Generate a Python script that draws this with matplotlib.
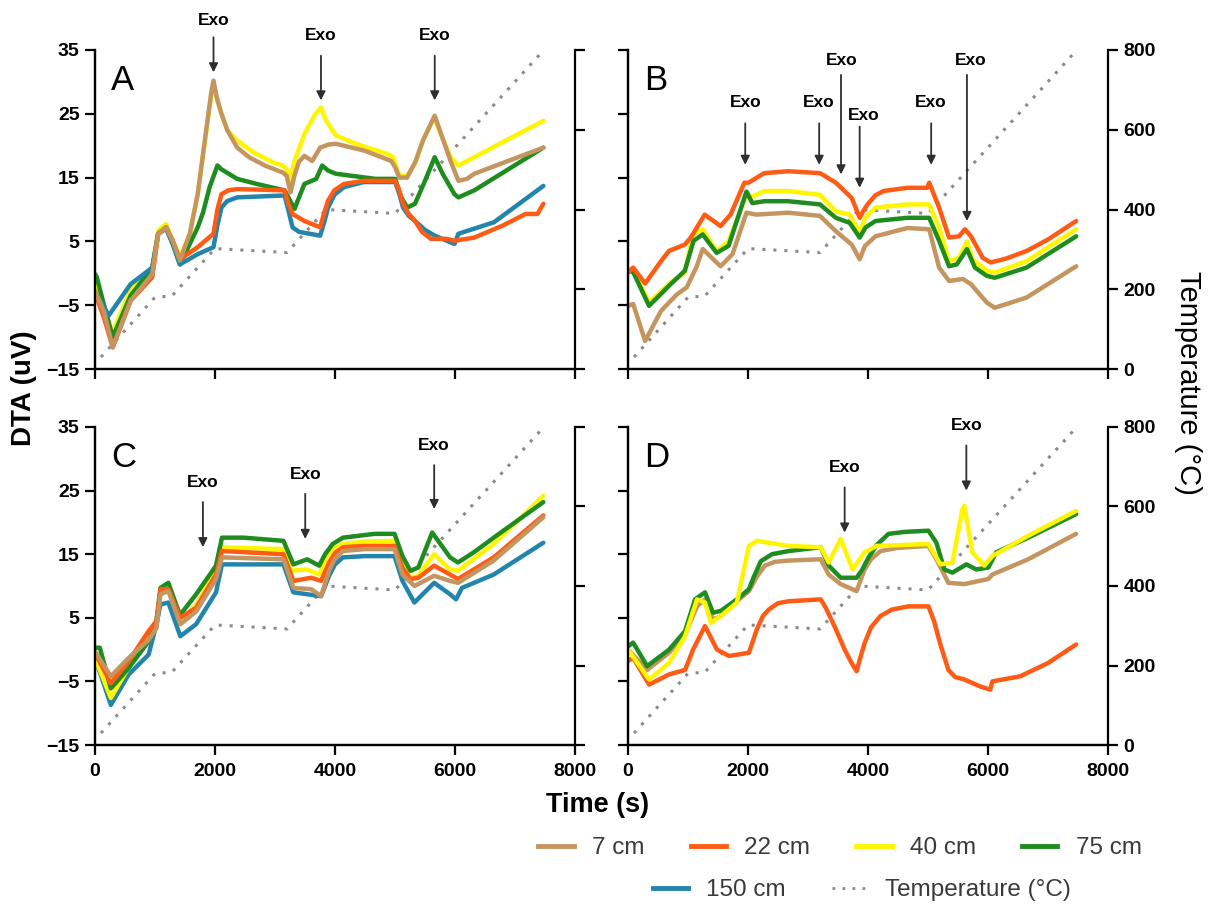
import matplotlib.pyplot as plt
from matplotlib.lines import Line2D

plt.rcParams['font.family'] = ['Liberation Sans', 'DejaVu Sans']

# furnace temperature program (same for every run)
temp_t = [100, 1000, 1280, 2000, 3200, 3850, 5000, 7450]
temp_c = [30, 180, 183, 302, 292, 400, 390, 795]

# ---- A ----
a7_t = [0, 150, 296, 593, 955, 1053, 1185, 1300, 1415, 1580, 1712, 1844, 1942, 1975, 2028, 2107, 2206, 2370,
        2568, 2831, 3127, 3193, 3259, 3330, 3400, 3490, 3621, 3753, 3900, 4016, 4500, 4938, 5004, 5070,
        5201, 5340, 5465, 5662, 5800, 5926, 6057, 6200, 6321, 7473]
a7_v = [-2.7, -6, -11.6, -4.3, -0.1, 6.2, 7.2, 5, 2.0, 6.2, 12.4, 21.8, 28.6, 30.2, 27.6, 25.0, 22.4, 19.7,
        18.2, 16.9, 15.8, 15.3, 12.7, 15.5, 17.5, 18.4, 17.6, 19.7, 20.2, 20.3, 19.2, 17.6, 16.6, 15.0,
        15.0, 17.5, 20.8, 24.7, 21.0, 17.6, 14.5, 14.8, 15.6, 19.7]
a22_t = [0, 150, 296, 593, 955, 1053, 1185, 1300, 1415, 1712, 1975, 2040, 2107, 2220, 2370, 3160, 3220,
         3292, 3490, 3753, 3820, 3885, 3990, 4148, 4477, 5004, 5070, 5135, 5230, 5333, 5450, 5597, 5860,
         5991, 6321, 6800, 7177, 7374, 7473]
a22_v = [-3, -7, -11.6, -4.3, -0.6, 6.2, 7.2, 5, 2.2, 4.1, 6.2, 10.0, 12.4, 13.0, 13.2, 13.0, 11.0,
         9.3, 8.2, 7.2, 9.5, 11.4, 13.0, 14.0, 14.5, 14.5, 13.0, 10.9, 9.3, 8.2, 6.5, 5.4, 5.4,
         5.1, 5.6, 7.5, 9.3, 9.3, 10.9]
a40_t = [0, 150, 277, 593, 955, 1053, 1185, 1300, 1415, 1580, 1712, 1844, 1942, 1975, 2074, 2206, 2370,
         2634, 2963, 3127, 3193, 3239, 3325, 3490, 3654, 3766, 3852, 4016, 4346, 4872, 4971, 5070, 5201,
         5340, 5465, 5649, 5800, 5926, 6057, 6321, 7473]
a40_v = [-1.9, -5, -9.5, -2.7, 0.9, 6.7, 7.7, 5, 2.5, 6.2, 12.4, 21.5, 28.2, 29.6, 26.0, 22.4, 20.8,
         19.0, 17.4, 16.9, 16.3, 14.3, 17.6, 21.8, 24.7, 26.0, 23.9, 21.6, 20.3, 18.7, 18.2, 15.3, 15.3,
         17.3, 20.8, 24.4, 21.0, 18.2, 16.9, 18.2, 23.9]
a75_t = [0, 30, 150, 296, 593, 955, 1053, 1185, 1300, 1415, 1712, 1800, 1910, 2041, 2107, 2370, 2700, 3160,
         3325, 3490, 3687, 3786, 3885, 4016, 4675, 5004, 5100, 5201, 5333, 5500, 5662, 5800, 5991, 6057,
         6321, 7473]
a75_v = [-0.1, -0.6, -5, -10.0, -3.5, 0.9, 6.2, 7.2, 4.5, 1.4, 7.2, 9.5, 13.5, 16.9, 16.3, 14.8, 14.0, 13.0,
         10.1, 14.0, 14.8, 16.9, 16.1, 15.6, 14.8, 14.8, 12.0, 10.3, 10.9, 14.5, 18.2, 15.5, 12.4, 11.9,
         13.0, 19.7]
a150_t = [0, 100, 230, 593, 955, 1053, 1185, 1300, 1415, 1712, 1975, 2040, 2107, 2200, 2370, 3160, 3220,
          3292, 3400, 3753, 3820, 3885, 3990, 4148, 4477, 5004, 5070, 5135, 5230, 5333, 5500, 5662, 5991,
          6057, 6650, 7473]
a150_v = [-3, -4.5, -6.6, -1.7, 0.9, 6.2, 7.0, 4.5, 1.4, 3.0, 4.1, 7.5, 10.3, 11.3, 11.9, 12.2, 10.0,
          7.2, 6.5, 5.9, 8.0, 10.3, 12.3, 13.5, 14.3, 14.3, 12.5, 10.3, 9.0, 8.2, 6.8, 5.9, 4.6,
          6.2, 8.0, 13.7]

# ---- B ----
b7_t = [0, 86, 285, 550, 815, 980, 1146, 1245, 1543, 1742, 1974, 2139, 2669, 3199, 3464, 3729, 3861,
        3950, 4126, 4656, 5020, 5185, 5351, 5583, 5716, 5981, 6113, 6643, 7470]
b7_v = [-5.1, -4.8, -10.6, -5.9, -3.3, -2.2, 1.1, 3.8, 1.1, 3.0, 9.5, 9.2, 9.5, 9.0, 6.6, 4.5, 2.2,
        4.3, 5.8, 7.1, 6.9, 0.9, -1.2, -0.9, -1.7, -4.6, -5.4, -3.8, 1.1]
b22_t = [0, 86, 285, 550, 682, 947, 1046, 1278, 1543, 1709, 1940, 2007, 2272, 2669, 3199, 3464, 3729,
         3861, 3930, 3993, 4120, 4258, 4656, 4987, 5020, 5185, 5351, 5517, 5616, 5716, 5914, 6047, 6300,
         6643, 7000, 7470]
b22_v = [0.1, 0.9, -1.6, 1.9, 3.5, 4.5, 5.6, 9.2, 7.4, 9.2, 14.2, 14.2, 15.7, 16.0, 15.7, 14.2, 11.8,
         8.7, 9.9, 10.8, 12.2, 12.9, 13.4, 13.4, 14.2, 10.3, 5.6, 5.8, 6.9, 5.8, 2.4, 1.7, 2.3,
         3.5, 5.3, 8.2]
b40_t = [0, 86, 351, 700, 947, 1080, 1245, 1477, 1676, 1974, 2073, 2272, 2669, 3199, 3464, 3696, 3861,
         3960, 4126, 4656, 5020, 5185, 5351, 5517, 5649, 5749, 5981, 6113, 6643, 7470]
b40_v = [0.7, 0.5, -4.6, -1.5, 0.1, 6.1, 6.9, 3.5, 5.0, 12.3, 12.0, 12.9, 12.9, 12.3, 9.7, 9.2, 6.4,
         8.8, 10.3, 10.8, 10.8, 7.2, 1.9, 2.4, 5.0, 2.1, 0.4, 0.1, 1.9, 6.9]
b75_t = [0, 86, 351, 700, 947, 1093, 1245, 1477, 1676, 1974, 2073, 2272, 2669, 3199, 3464, 3696, 3861,
         3960, 4126, 4656, 5020, 5185, 5351, 5480, 5649, 5782, 5981, 6113, 6643, 7470]
b75_v = [0.4, 0.2, -5.1, -1.8, 0.4, 5.1, 6.1, 3.2, 4.3, 12.8, 11.0, 11.3, 11.3, 10.8, 8.7, 7.9, 5.6,
         7.2, 8.2, 8.7, 8.7, 5.1, 1.1, 1.4, 3.8, 0.9, -0.4, -0.7, 0.9, 5.8]

# ---- C ----
c7_t = [0, 264, 562, 893, 1025, 1091, 1223, 1422, 1686, 2017, 2116, 3141, 3306, 3604, 3769, 3901, 4000,
        4132, 4500, 4992, 5124, 5323, 5653, 5918, 6050, 6645, 7472]
c7_v = [-0.3, -4.2, -1.3, 1.5, 3.4, 8.7, 9.2, 4.0, 6.0, 11.1, 14.5, 14.2, 9.7, 9.5, 8.4, 12.4, 14.3,
        15.5, 15.8, 15.8, 11.8, 10.0, 11.6, 10.8, 10.5, 14.0, 20.8]
c22_t = [0, 264, 562, 893, 1025, 1091, 1223, 1422, 1686, 2017, 2116, 3141, 3306, 3604, 3769, 3901, 4000,
         4132, 4500, 4992, 5124, 5256, 5389, 5653, 5918, 6050, 6645, 7472]
c22_v = [-0.5, -5.3, -1.8, 2.9, 4.5, 9.5, 9.5, 5.0, 6.6, 11.8, 15.5, 15.0, 10.8, 11.3, 10.8, 13.7, 15.2,
         16.1, 16.3, 16.3, 12.9, 11.1, 11.3, 13.2, 11.8, 11.1, 14.5, 21.1]
c40_t = [0, 264, 562, 893, 1025, 1091, 1223, 1422, 1686, 2017, 2083, 3141, 3273, 3537, 3736, 3868, 3980,
         4132, 4500, 4992, 5124, 5256, 5389, 5653, 5918, 6050, 6645, 7472]
c40_v = [-1.3, -7.6, -2.8, 2.0, 4.2, 9.2, 9.7, 4.5, 7.0, 12.4, 16.1, 15.8, 12.4, 12.6, 11.8, 14.7, 15.9,
         16.6, 17.0, 17.1, 13.7, 11.3, 11.6, 15.0, 12.6, 12.4, 16.6, 24.2]
c75_t = [0, 80, 264, 562, 893, 1025, 1091, 1223, 1389, 1422, 1686, 2017, 2116, 2480, 3141, 3306, 3537,
         3736, 3835, 3960, 4132, 4661, 4992, 5124, 5256, 5389, 5620, 5918, 6050, 6314, 6645, 7472]
c75_v = [0.3, 0.3, -6.1, -2.9, 1.3, 4.5, 9.7, 10.5, 6.1, 5.5, 8.7, 13.2, 17.6, 17.6, 17.1, 13.4, 14.2,
         13.2, 15.0, 16.6, 17.6, 18.2, 18.2, 14.7, 12.4, 12.9, 18.4, 14.5, 13.7, 15.3, 17.6, 23.2]
c150_t = [0, 264, 562, 893, 1025, 1091, 1223, 1422, 1686, 2017, 2116, 3141, 3306, 3537, 3769, 3901, 4000,
          4132, 4500, 4992, 5124, 5323, 5653, 5918, 6017, 6116, 6645, 7472]
c150_v = [-1.3, -8.7, -3.9, -0.8, 4.0, 7.1, 7.4, 2.1, 4.0, 9.0, 13.4, 13.4, 9.0, 8.7, 8.4, 11.6, 13.4,
          14.5, 14.7, 14.7, 10.8, 7.4, 10.5, 8.7, 7.9, 9.7, 11.8, 16.8]

# ---- D ----
d7_t = [0, 319, 685, 951, 1150, 1283, 1416, 1550, 1815, 2015, 2150, 2281, 2450, 2680, 3212, 3345, 3544,
        3810, 3943, 4050, 4209, 4500, 5007, 5140, 5340, 5606, 6005, 6072, 6670, 7468]
d7_v = [0, -3.2, -0.5, 2.4, 6.8, 7.9, 4.7, 5.3, 7.6, 9.2, 11.5, 13.2, 13.8, 14.0, 14.2, 11.8, 10.3,
        9.2, 12.6, 14.2, 15.5, 16.0, 16.3, 14.2, 10.5, 10.3, 11.1, 11.8, 14.2, 18.2]
d22_t = [0, 86, 352, 685, 951, 1084, 1283, 1483, 1682, 2015, 2148, 2250, 2347, 2500, 2680, 3212, 3300,
         3450, 3611, 3720, 3810, 3880, 3943, 4050, 4209, 4400, 4675, 5007, 5100, 5200, 5340, 5450, 5606,
         5872, 6038, 6072, 6537, 7002, 7468]
d22_v = [-1.8, -1.3, -5.5, -3.9, -3.2, 0.0, 3.7, 0.0, -1.0, -0.5, 3.2, 5.3, 6.3, 7.3, 7.6, 7.9, 6.5,
         3.5, 0.0, -2.0, -3.4, -1.0, 1.0, 3.5, 5.3, 6.3, 6.8, 6.8, 4.5, 1.0, -3.2, -4.3, -4.7,
         -5.8, -6.3, -5.0, -4.2, -2.1, 0.8]
d40_t = [0, 352, 685, 951, 1150, 1283, 1383, 1550, 1815, 2015, 2148, 2680, 3212, 3345, 3544, 3744, 3943,
         4143, 5007, 5207, 5407, 5573, 5606, 5739, 5939, 6072, 6670, 7468]
d40_v = [0, -4.7, -2.1, 2.1, 7.9, 7.4, 4.2, 5.3, 7.4, 16.3, 17.1, 16.3, 16.1, 13.7, 17.4, 12.6, 15.3,
         16.3, 16.6, 13.4, 13.7, 22.1, 22.6, 15.3, 13.2, 14.7, 17.9, 21.8]
d75_t = [0, 86, 319, 685, 951, 1117, 1283, 1416, 1550, 1815, 2015, 2100, 2214, 2400, 2680, 3212, 3345,
         3544, 3810, 3900, 4010, 4150, 4342, 4600, 5007, 5140, 5273, 5407, 5639, 5805, 6005, 6138, 6670,
         7468]
d75_v = [0.5, 1.1, -2.6, 0.0, 2.9, 7.9, 9.0, 5.8, 6.1, 7.9, 9.5, 11.5, 13.9, 15.0, 15.5, 16.1, 13.2,
         11.3, 11.3, 12.5, 14.5, 16.5, 18.2, 18.5, 18.7, 16.8, 12.6, 12.1, 13.4, 12.6, 12.9, 15.3, 17.6,
         21.3]

# Exo markers: (arrow time, label time, label y, arrow start y, arrow tip y)
exo_a = [(1975, 1975, 39.6, 37.0, 31.5), (3766, 3766, 37.2, 34.1, 27.1), (5662, 5662, 37.2, 34.1, 27.1)]
exo_b = [(1954, 1954, 26.7, 23.5, 17.0), (3186, 3186, 26.7, 23.5, 17.0), (3550, 3563, 33.4, 31.1, 15.5),
         (3861, 3927, 24.8, 23.0, 13.4), (5053, 5053, 26.7, 23.5, 17.0), (5649, 5716, 33.4, 31.1, 8.2)]
exo_c = [(1798, 1798, 26.2, 23.2, 16.1), (3504, 3504, 27.6, 24.5, 17.4), (5653, 5653, 32.1, 29.0, 22.1)]
exo_d = [(3611, 3611, 28.7, 25.5, 18.4), (5639, 5639, 35.3, 32.1, 25.0)]

C7, C22, C40, C75, C150 = '#C4955F', '#FF5B14', '#FFF500', '#1E8C1E', '#2385AB'
TEMP_COLOR = '#8a8a8a'


def draw_panel(rect, curves, exo, letter, left_lab, right_lab, bottom_lab):
    ax = fig.add_axes(rect)
    ax2 = ax.twinx()
    ax.set_zorder(ax2.get_zorder() + 1)
    ax.patch.set_visible(False)

    ax2.plot(temp_t, temp_c, color=TEMP_COLOR, lw=2.2, ls=(0, (1, 2.6)))
    for t, v, c in curves:
        ax.plot(t, v, color=c, lw=3.2, solid_capstyle='round', solid_joinstyle='round')

    ax.set_xlim(0, 8000)
    ax.set_ylim(-15, 35)
    ax2.set_ylim(0, 800)
    ax.set_xticks([0, 2000, 4000, 6000, 8000])
    ax.set_yticks([-15, -5, 5, 15, 25, 35])
    ax2.set_yticks([0, 200, 400, 600, 800])

    for a in (ax, ax2):
        a.spines['top'].set_visible(False)
        for s in a.spines.values():
            s.set_linewidth(1.6)
        a.tick_params(direction='out', length=7, width=1.6, labelsize=14, pad=4)
        for lab in a.get_xticklabels() + a.get_yticklabels():
            lab.set_fontweight('bold')
    ax.spines['right'].set_visible(False)
    ax.tick_params(axis='x', pad=6, labelbottom=bottom_lab)
    ax.tick_params(axis='y', labelleft=left_lab)
    ax2.tick_params(axis='y', labelright=right_lab)

    ax.text(0.033, 0.955, letter, transform=ax.transAxes, fontsize=25, va='top', ha='left')

    for xt, xl, yl, y0, y1 in exo:
        ax.annotate('', xy=(xt, y1), xytext=(xt, y0), annotation_clip=False,
                    arrowprops=dict(arrowstyle='-|>', color='#2e2e2e', lw=1.3, mutation_scale=13,
                                    shrinkA=0, shrinkB=0))
        ax.text(xl, yl, 'Exo', ha='center', va='center', fontsize=12.5, fontweight='bold', clip_on=False)
    return ax


fig = plt.figure(figsize=(12.13, 9.08), dpi=100)

W, H = 1213, 908
left_col = 95 / W
right_col = 628 / W
pw = 480 / W
top_row = (1 - 369 / H, 319 / H)
bot_row = (1 - 745 / H, 318 / H)

draw_panel([left_col, top_row[0], pw, top_row[1]],
           [(a40_t, a40_v, C40), (a75_t, a75_v, C75), (a150_t, a150_v, C150),
            (a22_t, a22_v, C22), (a7_t, a7_v, C7)],
           exo_a, 'A', True, False, False)
draw_panel([right_col, top_row[0], pw, top_row[1]],
           [(b40_t, b40_v, C40), (b75_t, b75_v, C75), (b7_t, b7_v, C7), (b22_t, b22_v, C22)],
           exo_b, 'B', False, True, False)
draw_panel([left_col, bot_row[0], pw, bot_row[1]],
           [(c150_t, c150_v, C150), (c40_t, c40_v, C40), (c75_t, c75_v, C75),
            (c22_t, c22_v, C22), (c7_t, c7_v, C7)],
           exo_c, 'C', True, False, True)
draw_panel([right_col, bot_row[0], pw, bot_row[1]],
           [(d22_t, d22_v, C22), (d7_t, d7_v, C7), (d75_t, d75_v, C75), (d40_t, d40_v, C40)],
           exo_d, 'D', False, True, True)

fig.text(24 / W, 1 - 388 / H, 'DTA (uV)', rotation=90, fontsize=20, fontweight='bold',
         ha='center', va='center')
fig.text(1188 / W, 1 - 383 / H, 'Temperature (\u00b0C)', rotation=270, fontsize=21,
         ha='center', va='center')
fig.text(598 / W, 1 - 805 / H, 'Time (s)', fontsize=19.5, fontweight='bold', ha='center', va='center')

# legend, two rows
row1 = [Line2D([], [], color=c, lw=3.5) for c in (C7, C22, C40, C75)]
row2 = [Line2D([], [], color=C150, lw=3.5),
        Line2D([], [], color=TEMP_COLOR, lw=2, ls=(0, (1, 2.6)))]
leg_kw = dict(frameon=False, fontsize=17.5, handlelength=1.45, handletextpad=0.75, columnspacing=1.9,
              labelcolor='#3a3a3a', loc='center')
fig.legend(row1, ['7 cm', '22 cm', '40 cm', '75 cm'], ncol=4,
           bbox_to_anchor=(840 / W, 1 - 848 / H), **leg_kw)
fig.legend(row2, ['150 cm', 'Temperature (\u00b0C)'], ncol=2,
           bbox_to_anchor=(862 / W, 1 - 890 / H), **leg_kw)

fig.savefig('out.png', dpi=100)
